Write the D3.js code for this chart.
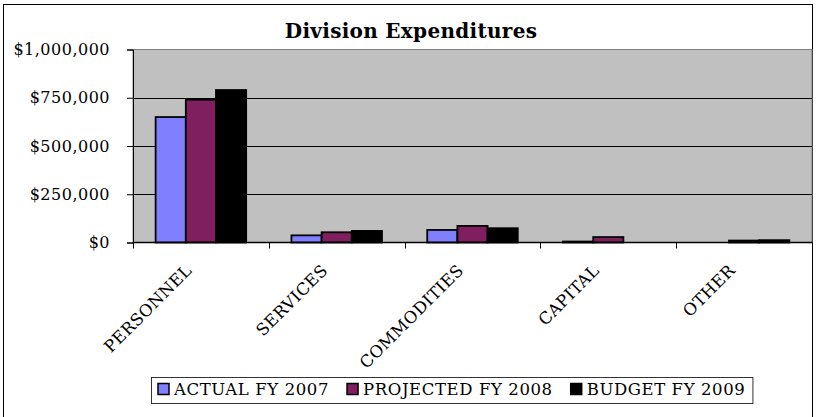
<!DOCTYPE html>
<html>
<head>
<meta charset="utf-8">
<script src="https://cdn.jsdelivr.net/npm/d3@7/dist/d3.min.js"></script>
<style>
  html, body { margin: 0; padding: 0; background: #fff; }
  svg { display: block; }
  text { font-family: "DejaVu Serif", "Liberation Serif", serif; fill: #000; }
</style>
</head>
<body>
<svg id="chart" width="817" height="417"></svg>
<script>
// Division expenditures by category, three fiscal years
const categories = ["PERSONNEL", "SERVICES", "COMMODITIES", "CAPITAL", "OTHER"];
const seriesNames = ["ACTUAL FY 2007", "PROJECTED FY 2008", "BUDGET FY 2009"];
const actual2007 = [650000, 37000, 65000, 5000, 0];
const projected2008 = [740000, 53000, 86000, 28000, 10000];
const budget2009 = [790000, 60000, 74000, 0, 12000];
const yTicks = [0, 250000, 500000, 750000, 1000000];
const chartTitle = "Division Expenditures";

const seriesValues = [actual2007, projected2008, budget2009];
const seriesColors = ["#8080ff", "#7f1f5f", "#000000"];

const svg = d3.select("#chart");

// chart frame
svg.append("rect")
  .attr("x", 3.5).attr("y", 4.5)
  .attr("width", 809).attr("height", 430)
  .attr("fill", "#fff").attr("stroke", "#000").attr("stroke-width", 1);

const plot = { left: 133, right: 812, top: 49.5, bottom: 242.5 };

const x = d3.scaleBand().domain(categories).range([plot.left, plot.right]).padding(0);
const bw = x.bandwidth();
const xs = d3.scaleBand().domain(seriesNames).range([bw / 6, bw * 5 / 6]).padding(0);
const y = d3.scaleLinear().domain([0, 1000000]).range([plot.bottom, plot.top]);

// plot area
svg.append("rect")
  .attr("x", plot.left).attr("y", plot.top)
  .attr("width", plot.right - plot.left).attr("height", plot.bottom - plot.top)
  .attr("fill", "#c0c0c0").attr("stroke", "#808080").attr("stroke-width", 1);

// gridlines
svg.append("g")
  .selectAll("line")
  .data(yTicks.filter(d => d > 0 && d < 1000000))
  .join("line")
  .attr("x1", plot.left).attr("x2", plot.right)
  .attr("y1", d => Math.round(y(d)) + 0.5).attr("y2", d => Math.round(y(d)) + 0.5)
  .attr("stroke", "#000").attr("stroke-width", 1);

// bars
const rows = categories.map((c, i) => ({ c, vals: seriesValues.map((s, j) => ({ name: seriesNames[j], v: s[i], color: seriesColors[j] })) }));
const groups = svg.append("g").selectAll("g")
  .data(rows).join("g")
  .attr("transform", d => `translate(${x(d.c)},0)`);
groups.selectAll("rect")
  .data(d => d.vals.filter(e => e.v > 0))
  .join("rect")
  .attr("x", d => xs(d.name))
  .attr("y", d => y(d.v))
  .attr("width", xs.bandwidth())
  .attr("height", d => y(0) - y(d.v))
  .attr("fill", d => d.color)
  .attr("stroke", "#000").attr("stroke-width", 1.8);

// y axis
const yAxis = svg.append("g")
  .attr("transform", `translate(${plot.left},0)`)
  .call(d3.axisLeft(y).tickValues(yTicks).tickSize(6).tickPadding(17).tickFormat(d3.format("$,")));
yAxis.select(".domain").attr("stroke", "#000");
yAxis.selectAll(".tick line").attr("stroke", "#000");
yAxis.selectAll("text")
  .attr("font-family", "DejaVu Serif").attr("font-size", 16)
  .attr("letter-spacing", "0.5px").attr("fill", "#000");

// x axis with boundary ticks
const xAxis = svg.append("g")
  .attr("transform", `translate(0,${plot.bottom})`);
xAxis.append("line")
  .attr("x1", plot.left).attr("x2", plot.right)
  .attr("stroke", "#000").attr("stroke-width", 1.5);
xAxis.selectAll("line.tk")
  .data(categories.map(c => x(c)).concat([plot.right]))
  .join("line").attr("class", "tk")
  .attr("x1", d => Math.round(d) + 0.5).attr("x2", d => Math.round(d) + 0.5)
  .attr("y1", 0).attr("y2", 6)
  .attr("stroke", "#000");

// rotated category labels
xAxis.selectAll("text.cat")
  .data(categories)
  .join("text").attr("class", "cat")
  .attr("transform", d => `translate(${x(d) + bw / 2 - 8},29) rotate(-45)`)
  .attr("text-anchor", "end")
  .attr("font-size", 16.5)
  .attr("letter-spacing", "0.4px")
  .text(d => d);

// title
svg.append("text")
  .attr("x", 411).attr("y", 38)
  .attr("text-anchor", "middle")
  .attr("font-family", "DejaVu Serif").attr("font-weight", "bold")
  .attr("font-size", 20).attr("letter-spacing", "0.3px")
  .text(chartTitle);

// legend, laid out left to right and boxed
const legend = svg.append("g");
const sw = 11, gapAfterSwatch = 5, gapBetween = 18;
const items = legend.selectAll("g").data(seriesNames).join("g");
items.append("rect")
  .attr("width", sw).attr("height", sw)
  .attr("y", -sw - 0.5)
  .attr("fill", (d, i) => seriesColors[i])
  .attr("stroke", "#000").attr("stroke-width", 1.5);
items.append("text")
  .attr("x", sw + gapAfterSwatch)
  .attr("y", 0)
  .attr("font-size", 16.5).attr("letter-spacing", "0.6px")
  .text(d => d);
const offsets = [];
let cursor = 0;
items.each(function () {
  offsets.push(cursor);
  const tw = d3.select(this).select("text").node().getComputedTextLength();
  cursor += sw + gapAfterSwatch + tw + gapBetween;
});
const legendW = cursor - gapBetween;
const padX = 7, boxTop = 377.5, boxH = 26;
const legendCx = 452;
const lx = Math.round(legendCx - legendW / 2);
legend.insert("rect", ":first-child")
  .attr("x", lx - padX + 0.5).attr("y", boxTop)
  .attr("width", legendW + 2 * padX).attr("height", boxH)
  .attr("fill", "#fff").attr("stroke", "#333").attr("stroke-width", 1);
items.attr("transform", (d, i) => `translate(${lx + offsets[i]},395)`);
</script>
</body>
</html>
